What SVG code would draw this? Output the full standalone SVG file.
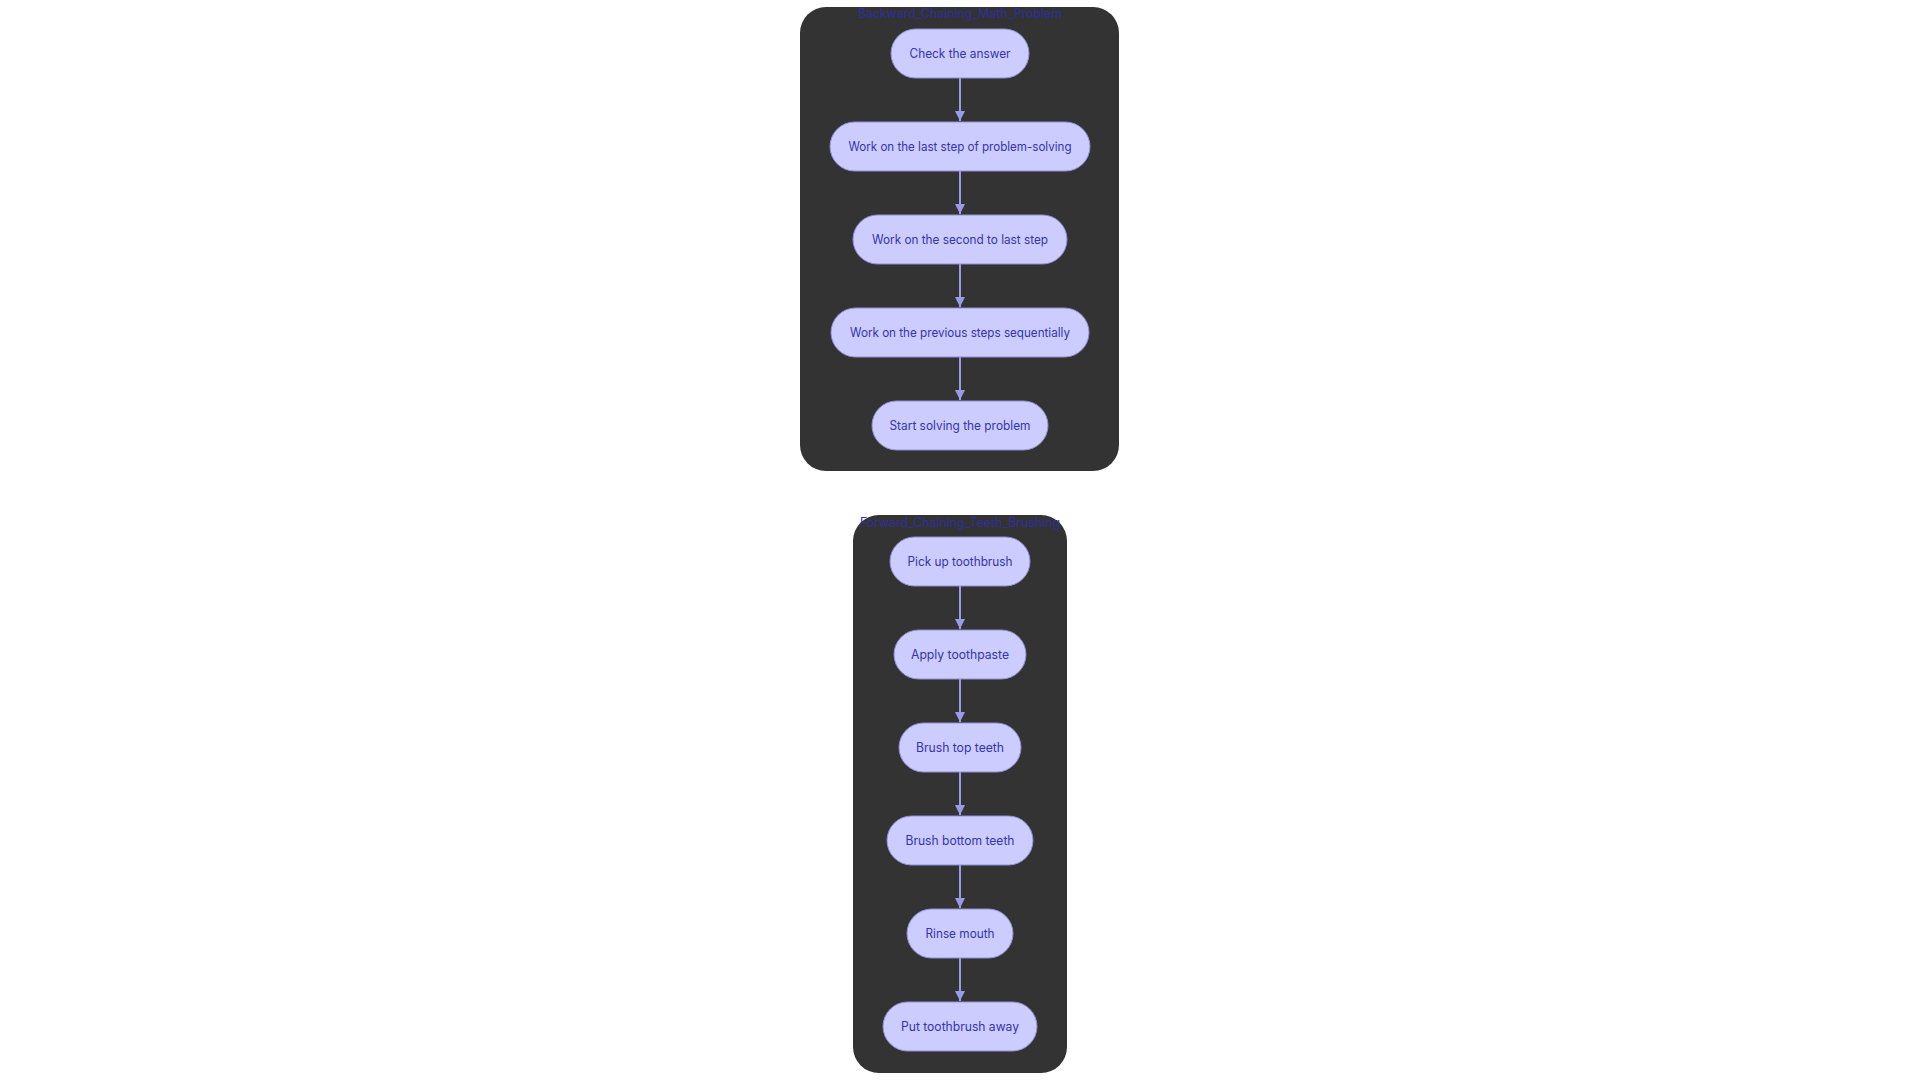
<svg xmlns="http://www.w3.org/2000/svg" width="1920" height="1080" viewBox="0 0 1920 1080">
<style>
.cluster{fill:#333333;}
.title{fill:#2e2ea0;font-family:Inter,"Noto Sans","Liberation Sans",sans-serif;font-size:12.5px;text-anchor:middle;}
.node rect{fill:#ccccff;stroke:#8f8fd6;stroke-width:1;}
.node text{fill:#3535a8;font-family:Inter,"Noto Sans","Liberation Sans",sans-serif;font-size:12.5px;text-anchor:middle;}
.edge{stroke:#9a9ae6;stroke-width:2;fill:none;}
</style>
<defs>
<marker id="arrow" viewBox="0 0 10 10" refX="10" refY="5" markerWidth="10" markerHeight="10" markerUnits="userSpaceOnUse" orient="auto">
<path d="M0,0 L10,5 L0,10 z" fill="#9a9ae6"/>
</marker>
</defs>
<rect width="1920" height="1080" fill="#ffffff"/>
<g id="cluster-backward">
<rect class="cluster" x="800" y="7" width="319" height="464" rx="26" ry="26"/>
<text class="title" x="960" y="18" textLength="204" lengthAdjust="spacingAndGlyphs">Backward_Chaining_Math_Problem</text>
</g>
<g id="cluster-forward">
<rect class="cluster" x="853" y="515" width="214" height="558" rx="26" ry="26"/>
<text class="title" x="960" y="527" textLength="200" lengthAdjust="spacingAndGlyphs">Forward_Chaining_Teeth_Brushing</text>
</g>
<g id="connectors">
<line class="edge" x1="960" y1="78" x2="960" y2="121" marker-end="url(#arrow)"/>
<line class="edge" x1="960" y1="171" x2="960" y2="214" marker-end="url(#arrow)"/>
<line class="edge" x1="960" y1="264" x2="960" y2="307" marker-end="url(#arrow)"/>
<line class="edge" x1="960" y1="357" x2="960" y2="400" marker-end="url(#arrow)"/>
<line class="edge" x1="960" y1="586" x2="960" y2="629" marker-end="url(#arrow)"/>
<line class="edge" x1="960" y1="679" x2="960" y2="722" marker-end="url(#arrow)"/>
<line class="edge" x1="960" y1="772" x2="960" y2="815" marker-end="url(#arrow)"/>
<line class="edge" x1="960" y1="865" x2="960" y2="908" marker-end="url(#arrow)"/>
<line class="edge" x1="960" y1="958" x2="960" y2="1001" marker-end="url(#arrow)"/>
</g>
<g id="node-check" class="node">
<rect x="891" y="29" width="138" height="49" rx="24.5"/>
<text x="960" y="58" textLength="101" lengthAdjust="spacingAndGlyphs">Check the answer</text>
</g>
<g id="node-last" class="node">
<rect x="830" y="122" width="260" height="49" rx="24.5"/>
<text x="960" y="151" textLength="223" lengthAdjust="spacingAndGlyphs">Work on the last step of problem-solving</text>
</g>
<g id="node-second" class="node">
<rect x="853" y="215" width="214" height="49" rx="24.5"/>
<text x="960" y="244" textLength="176" lengthAdjust="spacingAndGlyphs">Work on the second to last step</text>
</g>
<g id="node-previous" class="node">
<rect x="831" y="308" width="258" height="49" rx="24.5"/>
<text x="960" y="337" textLength="220" lengthAdjust="spacingAndGlyphs">Work on the previous steps sequentially</text>
</g>
<g id="node-start" class="node">
<rect x="872" y="401" width="176" height="49" rx="24.5"/>
<text x="960" y="430" textLength="141" lengthAdjust="spacingAndGlyphs">Start solving the problem</text>
</g>
<g id="node-pickup" class="node">
<rect x="890" y="537" width="140" height="49" rx="24.5"/>
<text x="960" y="566" textLength="105" lengthAdjust="spacingAndGlyphs">Pick up toothbrush</text>
</g>
<g id="node-apply" class="node">
<rect x="894" y="630" width="132" height="49" rx="24.5"/>
<text x="960" y="659" textLength="98" lengthAdjust="spacingAndGlyphs">Apply toothpaste</text>
</g>
<g id="node-top" class="node">
<rect x="899" y="723" width="122" height="49" rx="24.5"/>
<text x="960" y="752" textLength="88" lengthAdjust="spacingAndGlyphs">Brush top teeth</text>
</g>
<g id="node-bottom" class="node">
<rect x="887" y="816" width="146" height="49" rx="24.5"/>
<text x="960" y="845" textLength="109" lengthAdjust="spacingAndGlyphs">Brush bottom teeth</text>
</g>
<g id="node-rinse" class="node">
<rect x="907" y="909" width="106" height="49" rx="24.5"/>
<text x="960" y="938" textLength="69" lengthAdjust="spacingAndGlyphs">Rinse mouth</text>
</g>
<g id="node-away" class="node">
<rect x="883" y="1002" width="154" height="49" rx="24.5"/>
<text x="960" y="1031" textLength="118" lengthAdjust="spacingAndGlyphs">Put toothbrush away</text>
</g>
</svg>
